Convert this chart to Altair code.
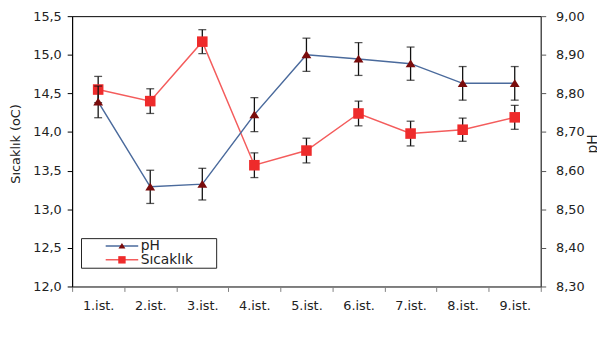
import altair as alt
import pandas as pd

# ---- data ----
stations = ["1.ist.", "2.ist.", "3.ist.", "4.ist.", "5.ist.", "6.ist.", "7.ist.", "8.ist.", "9.ist."]
temp_values = [14.55, 14.40, 15.17, 13.57, 13.76, 14.24, 13.98, 14.03, 14.19]
temp_errors = [0.17, 0.16, 0.155, 0.16, 0.16, 0.16, 0.16, 0.15, 0.155]
ph_values = [8.778, 8.558, 8.565, 8.745, 8.900, 8.889, 8.877, 8.826, 8.826]
ph_errors = [0.041, 0.043, 0.041, 0.044, 0.043, 0.0425, 0.043, 0.0435, 0.0435]
series_names = ["pH", "Sıcaklık"]
temp_ticks = [12.0, 12.5, 13.0, 13.5, 14.0, 14.5, 15.0, 15.5]
ph_ticks = [8.3, 8.4, 8.5, 8.6, 8.7, 8.8, 8.9, 9.0]

line_colors = ["#4a6a9c", "#f45c5c"]
marker_colors = ["#7a0c0c", "#ee2b2b"]
tri_path = "M0,-0.85L1,0.72H-1Z"
sq_path = "M-1.07,-1.07H1.07V1.07H-1.07Z"
# legend line sample; the zero-length end point widens the legend box to the right
line_path = "M-4.71,0H4.71M26,0h0"

FONT = "DejaVu Sans"
TXT = "#222222"


def frame(values, errors, name):
    return pd.DataFrame({
        "station": stations,
        "value": values,
        "lo": [v - e for v, e in zip(values, errors)],
        "hi": [v + e for v, e in zip(values, errors)],
        "line_series": name,
        "marker_series": name,
    })


temp_df = frame(temp_values, temp_errors, "Sıcaklık")
ph_df = frame(ph_values, ph_errors, "pH")

x_enc = alt.X(
    "station:N", sort=stations,
    scale=alt.Scale(type="band", paddingInner=0, paddingOuter=0),
    axis=alt.Axis(title=None, labelAngle=0, tickBand="extent", tickSize=5,
                  labelPadding=8, domainColor="#808080", tickColor="#808080",
                  labelFont=FONT, labelFontSize=13, labelColor=TXT, grid=False),
)

common_legend = dict(title=None, orient="none", legendX=9,
                     symbolSize=49, symbolStrokeWidth=1.5, padding=1, rowPadding=0,
                     symbolOffset=33.5,
                     labelFont=FONT, labelFontSize=14, labelColor=TXT,
                     labelOffset=12)
line_legend = alt.Legend(symbolType=line_path, strokeColor="#222222", legendY=225,
                         **common_legend)
marker_legend = alt.Legend(labelExpr="''", symbolStrokeColor="transparent", legendY=225,
                           **common_legend)

stroke_enc = alt.Stroke("line_series:N", sort=series_names,
                        scale=alt.Scale(range=line_colors),
                        legend=line_legend)
fill_enc = alt.Fill("marker_series:N",
                    scale=alt.Scale(domain=series_names, range=marker_colors),
                    legend=marker_legend)
shape_enc = alt.Shape("marker_series:N",
                      scale=alt.Scale(domain=series_names, range=[tri_path, sq_path]),
                      legend=marker_legend)


def group(df, scale, axis):
    def yy(field):
        return alt.Y(f"{field}:Q", scale=scale, axis=axis)
    base = alt.Chart(df)
    line = base.mark_line(strokeWidth=1.5).encode(x=x_enc, y=yy("value"), stroke=stroke_enc)
    rule = base.mark_rule(color="#111111", strokeWidth=1.3).encode(
        x=x_enc, y=yy("lo"), y2=alt.Y2("hi"))
    cap_lo = base.mark_tick(color="#111111", size=8, thickness=1.3).encode(x=x_enc, y=yy("lo"))
    cap_hi = base.mark_tick(color="#111111", size=8, thickness=1.3).encode(x=x_enc, y=yy("hi"))
    pts = base.mark_point(filled=True, opacity=1, size=100, strokeWidth=0).encode(
        x=x_enc, y=yy("value"), fill=fill_enc, shape=shape_enc)
    return alt.layer(line, rule, cap_lo, cap_hi, pts)


temp_axis = alt.Axis(
    title="Sıcaklık (oC)", values=temp_ticks,
    labelExpr="replace(format(datum.value, '.1f'), '.', ',')",
    grid=False, tickSize=5, labelPadding=6, domainColor="#000000", tickColor="#000000",
    labelFont=FONT, labelFontSize=13, labelColor=TXT,
    titleFont=FONT, titleFontSize=13, titleColor=TXT, titleFontWeight="normal",
    titleAngle=270, titleBaseline="bottom", titleAlign="center", titleX=-50, titleY=129,
)
ph_axis = alt.Axis(
    title="pH", orient="right", values=ph_ticks,
    labelExpr="replace(format(datum.value, '.2f'), '.', ',')",
    grid=False, tickSize=5, labelPadding=10, domainColor="#555555", tickColor="#555555",
    labelFont=FONT, labelFontSize=13, labelColor=TXT,
    titleFont=FONT, titleFontSize=14, titleColor=TXT, titleFontWeight="normal",
    titleAngle=270, titleBaseline="top", titleAlign="center", titleX=46, titleY=129,
)

temp_layer = group(temp_df, alt.Scale(domain=[12.0, 15.5], nice=False, zero=False), temp_axis)
ph_layer = group(ph_df, alt.Scale(domain=[8.3, 9.0], nice=False, zero=False), ph_axis)

chart = (
    alt.layer(temp_layer, ph_layer)
    .resolve_scale(y="independent")
    .properties(width=475, height=274, autosize="none",
                padding={"left": 65, "top": 6, "right": 57, "bottom": 54})
    .configure_view(stroke="#000000", strokeWidth=1)
)

chart.save("out.html", embed_options={"renderer": "svg", "actions": False})
